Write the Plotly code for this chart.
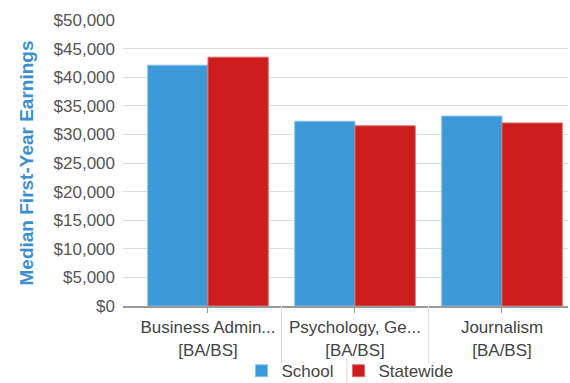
import plotly.graph_objects as go

categories = ["Business Admin...<br>[BA/BS]", "Psychology, Ge...<br>[BA/BS]", "Journalism<br>[BA/BS]"]
school = [42100, 32300, 33200]
statewide = [43500, 31500, 32000]
series_names = ["School", "Statewide"]
tick_vals = [0, 5000, 10000, 15000, 20000, 25000, 30000, 35000, 40000, 45000, 50000]
tick_text = ["$0", "$5,000", "$10,000", "$15,000", "$20,000", "$25,000", "$30,000",
             "$35,000", "$40,000", "$45,000", "$50,000"]

FONT = "Liberation Sans, Arial, Helvetica, sans-serif"

fig = go.Figure()
fig.add_trace(go.Bar(
    x=categories, y=school, name=series_names[0],
    marker=dict(color="#3d98d8", line=dict(color="#86c3ea", width=1)),
))
fig.add_trace(go.Bar(
    x=categories, y=statewide, name=series_names[1],
    marker=dict(color="#cc1c1c", line=dict(color="#e06a6a", width=1)),
))

fig.update_layout(
    width=570, height=383,
    margin=dict(l=123, r=2, t=20, b=77, autoexpand=False),
    paper_bgcolor="white", plot_bgcolor="white",
    barmode="group", bargap=0.18, bargroupgap=0.0,
    font=dict(family=FONT, size=17, color="#555555"),
    showlegend=True,
    legend=dict(orientation="h", x=0.614, xanchor="center", xref="container",
                y=-0.165, yanchor="top", yref="paper",
                bgcolor="rgba(0,0,0,0)",
                font=dict(size=17, color="#444444"), itemwidth=30,
                traceorder="normal", tracegroupgap=0),
    xaxis=dict(
        type="category", range=[-0.578, 2.449],
        showgrid=False, showline=True, linecolor="#999999", linewidth=2,
        ticks="outside", ticklen=5, tickcolor="#999999",
        tickfont=dict(size=17, color="#444444"),
    ),
    yaxis=dict(
        range=[0, 50000], tickvals=tick_vals, ticktext=tick_text,
        showgrid=True, gridcolor="#dddddd", gridwidth=1,
        zeroline=False, ticks="", ticklabelstandoff=7,
        tickfont=dict(size=17, color="#555555"),
        title=dict(text="<b>Median First-Year Earnings</b>",
                   font=dict(size=19, color="#3a8fd0"), standoff=14),
    ),
)

# separators between category labels
for xv in [0.5, 1.5]:
    fig.add_shape(type="line", xref="x", yref="paper", x0=xv, x1=xv, y0=0, y1=-0.2,
                  line=dict(color="#dddddd", width=1))

# separator between legend items
fig.add_shape(type="line", xref="paper", yref="paper", x0=0.503, x1=0.503, y0=-0.18, y1=-0.27,
              line=dict(color="#dddddd", width=1))

fig.write_html("out.html")
